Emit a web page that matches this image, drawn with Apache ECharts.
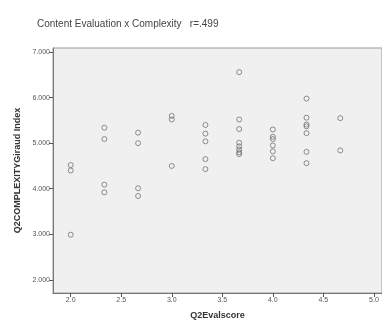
<!DOCTYPE html>
<html>
<head>
<meta charset="utf-8">
<script src="https://cdn.jsdelivr.net/npm/echarts@6/dist/echarts.min.js"></script>
<style>html,body{margin:0;padding:0;background:#fff}#c{width:382px;height:332px}</style>
</head>
<body>
<div id="c"></div>
<script>
var titleText = 'Content Evaluation x Complexity   r=.499';
var xName = 'Q2Evalscore';
var yName = 'Q2COMPLEXITYGiraud Index';
var xTicks = [2.0, 2.5, 3.0, 3.5, 4.0, 4.5, 5.0];
var yTicks = [2, 3, 4, 5, 6, 7];
var evalScores = [
  2.0, 2.0, 2.0,
  2.333, 2.333, 2.333, 2.333,
  2.667, 2.667, 2.667, 2.667,
  3.0, 3.0, 3.0,
  3.333, 3.333, 3.333, 3.333, 3.333,
  3.667, 3.667, 3.667, 3.667, 3.667, 3.667, 3.667, 3.667,
  4.0, 4.0, 4.0, 4.0, 4.0, 4.0,
  4.333, 4.333, 4.333, 4.333, 4.333, 4.333, 4.333,
  4.667, 4.667
];
var complexity = [
  4.52, 4.40, 2.99,
  5.34, 5.09, 4.09, 3.92,
  5.23, 5.00, 4.01, 3.84,
  5.60, 5.52, 4.50,
  5.40, 5.21, 5.04, 4.65, 4.43,
  6.56, 5.52, 5.31, 5.01, 4.93, 4.86, 4.80, 4.76,
  5.30, 5.14, 5.09, 4.95, 4.82, 4.67,
  5.98, 5.56, 5.41, 5.37, 5.22, 4.81, 4.56,
  5.55, 4.84
];
var pts = evalScores.map(function (x, i) { return [x, complexity[i]]; });
var chart = echarts.init(document.getElementById('c'), null, {renderer: 'canvas'});
var lbl = {fontFamily: 'Liberation Sans', fontSize: 7, color: '#555'};
chart.setOption({
  animation: false,
  backgroundColor: '#ffffff',
  title: {
    text: titleText, left: 32, top: 14,
    textStyle: {fontFamily: 'Liberation Sans', fontSize: 10, fontWeight: 'normal', color: '#444'}
  },
  grid: {
    left: 53, top: 48, right: 0, bottom: 39,
    show: true, backgroundColor: '#f0f0f0', borderColor: '#9a9a9a', borderWidth: 1
  },
  xAxis: {
    type: 'value', min: 1.825, max: 5.08,
    name: xName, nameLocation: 'middle', nameGap: 18,
    nameTextStyle: {fontFamily: 'Liberation Sans', fontSize: 9, fontWeight: 'bold', color: '#333'},
    splitLine: {show: false},
    axisLine: {show: true, onZero: false, lineStyle: {color: '#777', width: 1}},
    axisTick: {show: true, length: 4, customValues: xTicks, lineStyle: {color: '#555'}},
    axisLabel: Object.assign({customValues: xTicks, margin: 4, formatter: function (v) { return v.toFixed(1); }}, lbl)
  },
  yAxis: {
    type: 'value', min: 1.71, max: 7.09,
    name: yName, nameLocation: 'middle', nameGap: 26, nameRotate: 90,
    nameTextStyle: {fontFamily: 'Liberation Sans', fontSize: 9, fontWeight: 'bold', color: '#333'},
    splitLine: {show: false},
    axisLine: {show: true, onZero: false, lineStyle: {color: '#777', width: 1}},
    axisTick: {show: true, length: 4, customValues: yTicks, lineStyle: {color: '#555'}},
    axisLabel: Object.assign({customValues: yTicks, margin: 3, formatter: function (v) { return v.toFixed(3); }}, lbl)
  },
  series: [{
    type: 'scatter', data: pts,
    symbol: 'circle', symbolSize: 5,
    itemStyle: {color: 'rgba(0,0,0,0)', borderColor: '#666', borderWidth: 0.9}
  }]
});
</script>
</body>
</html>
